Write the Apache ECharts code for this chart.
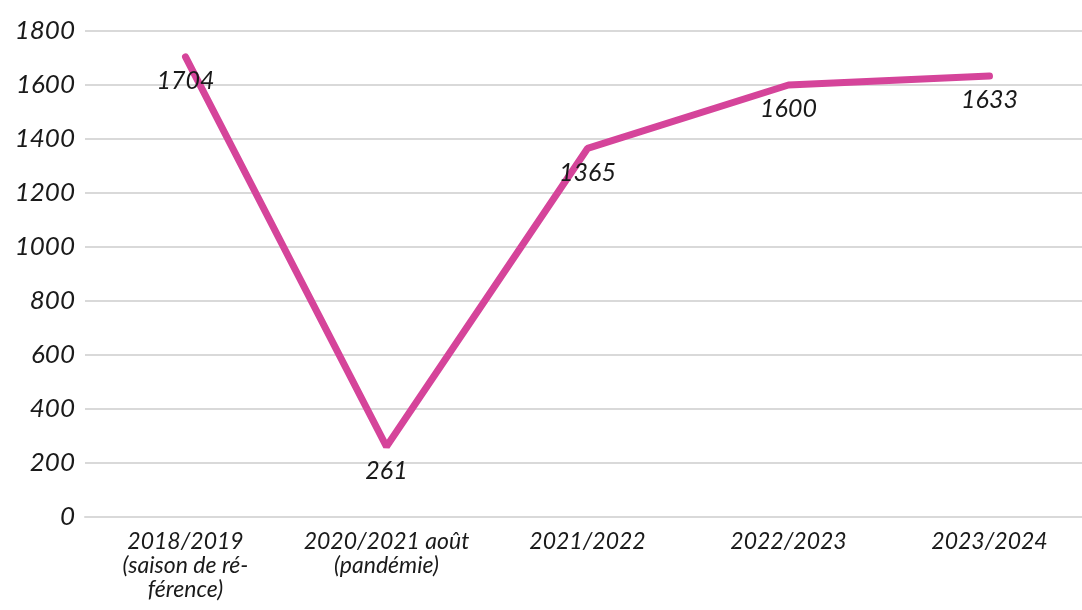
<!DOCTYPE html>
<html>
<head>
<meta charset="utf-8">
<script src="https://cdn.jsdelivr.net/npm/echarts@6/dist/echarts.min.js"></script>
<style>
  html, body { margin: 0; padding: 0; background: #fff; overflow: hidden; }
  #app { width: 1092px; height: 610px; }
</style>
</head>
<body>
<div id="app"></div>
<script>
// saisons et valeurs
var saisons = ['2018/2019\n(saison de ré-\nférence)', '2020/2021 août\n(pandémie)', '2021/2022', '2022/2023', '2023/2024'];
var valeurs = [1704, 261, 1365, 1600, 1633];

var myChart = echarts.init(document.getElementById('app'));
var option = {
    animation: false,
    grid: {
        left: 85,
        top: 31,
        bottom: 93,
        right: 2
    },
    xAxis: {
        type: 'category',
        data: saisons,
        axisLine: { lineStyle: { color: '#d9d9d9', width: 2 } },
        axisTick: { show: false },
        axisLabel: {
            interval: 0,
            color: '#1a1a1a',
            fontFamily: 'Lato',
            fontStyle: 'italic',
            fontSize: 23,
            lineHeight: 24,
            margin: 13
        }
    },
    yAxis: {
        type: 'value',
        min: 0,
        max: 1800,
        interval: 200,
        axisLine: { show: false },
        axisTick: { show: false },
        splitLine: { lineStyle: { color: '#d9d9d9', width: 2 } },
        axisLabel: {
            color: '#1a1a1a',
            fontFamily: 'Lato',
            fontStyle: 'italic',
            fontSize: 26,
            margin: 10,
            formatter: function (v) { return String(v); }
        }
    },
    series: [{
        type: 'line',
        data: valeurs,
        symbol: 'circle',
        symbolSize: 1,
        itemStyle: { color: '#d5449a' },
        lineStyle: { color: '#d5449a', width: 7, cap: 'round' },
        label: {
            show: true,
            position: 'bottom',
            distance: 11,
            color: '#1a1a1a',
            fontFamily: 'Lato',
            fontStyle: 'italic',
            fontSize: 25
        }
    }]
};
myChart.setOption(option);
</script>
</body>
</html>
